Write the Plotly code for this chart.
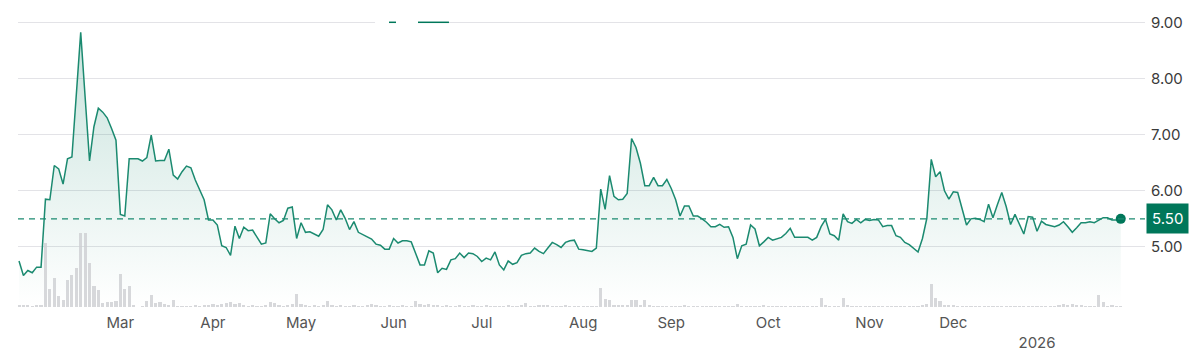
import plotly.graph_objects as go

# Daily closing prices (trading-day sequence, ~Jan 2025 -> Jan 2026)
prices = [
    4.75, 4.49, 4.58, 4.54, 4.64, 4.64, 5.85, 5.84, 6.45, 6.39,
    6.12, 6.57, 6.60, 7.70, 8.82, 7.67, 6.53, 7.14, 7.47, 7.40,
    7.30, 7.11, 6.90, 5.58, 5.55, 6.57, 6.57, 6.57, 6.53, 6.59,
    6.99, 6.53, 6.54, 6.54, 6.74, 6.28,
    6.21, 6.34, 6.44, 6.41, 6.19, 6.01, 5.84, 5.48, 5.48, 5.39,
    5.02, 4.99, 4.85, 5.37, 5.15, 5.35, 5.29, 5.30, 5.18, 5.05,
    5.07, 5.59, 5.50, 5.43, 5.47, 5.69, 5.71, 5.15, 5.43, 5.26,
    5.27, 5.23, 5.19, 5.31, 5.75, 5.66,
    5.48, 5.66, 5.51, 5.31, 5.45, 5.26, 5.22, 5.18, 5.14, 5.05,
    5.03, 4.96, 4.96, 5.15, 5.07, 5.11, 5.11, 5.09, 4.89, 4.68,
    4.68, 4.93, 4.89, 4.54, 4.62, 4.60, 4.77, 4.79, 4.89, 4.81,
    4.89, 4.88, 4.83, 4.74, 4.80, 4.77,
    4.91, 4.68, 4.59, 4.75, 4.69, 4.72, 4.85, 4.88, 4.89, 4.98,
    4.92, 4.88, 4.98, 5.08, 5.04, 4.99, 5.08, 5.11, 5.12, 4.96,
    4.95, 4.93, 4.92, 4.98, 6.03, 5.67, 6.27, 5.90, 5.84, 5.85,
    5.95, 6.93, 6.77, 6.49, 6.09, 6.09,
    6.24, 6.09, 6.09, 6.20, 6.04, 5.84, 5.55, 5.73, 5.73, 5.55,
    5.55, 5.50, 5.44, 5.36, 5.36, 5.40, 5.35, 5.36, 5.17, 4.79,
    5.02, 5.05, 5.39, 5.32, 5.02, 5.09, 5.17, 5.12, 5.15, 5.17,
    5.24, 5.33, 5.17, 5.17, 5.17, 5.17, 5.12,
    5.17, 5.36, 5.49, 5.23, 5.20, 5.12, 5.59, 5.45, 5.42, 5.49,
    5.43, 5.49, 5.47, 5.49, 5.48, 5.36, 5.38, 5.38, 5.20, 5.17,
    5.08, 5.04, 4.98, 4.91, 5.15, 5.51, 6.56, 6.25, 6.34, 6.00,
    5.85, 5.98, 5.97, 5.69, 5.39, 5.50,
    5.51, 5.49, 5.45, 5.76, 5.52, 5.75, 5.97, 5.72, 5.40, 5.58,
    5.40, 5.23, 5.54, 5.53, 5.28, 5.46, 5.40, 5.38, 5.36, 5.39,
    5.45, 5.36, 5.26, 5.34, 5.43, 5.43, 5.45, 5.43, 5.48, 5.52,
    5.52, 5.48, 5.48, 5.50,
]

# Daily traded volume (relative units)
volumes = [
    2, 2, 2, 1, 2, 2, 64, 18, 29, 11, 7, 27, 32, 39, 74, 74,
    44, 21, 17, 4, 5, 5, 6, 33, 18, 21, 2, 0.5, 1, 6, 12, 4, 5, 3, 2, 7,
    1, 1, 1, 1, 2, 1, 2, 2, 3, 2, 3, 4, 5, 3, 4, 2, 1, 2, 1, 1,
    2, 5, 4, 2, 1, 2, 3, 13, 3, 2, 1, 2, 1, 2, 6, 2,
    1, 2, 1, 1, 2, 1, 1, 2, 3, 2, 1, 1, 2, 1, 1, 2, 1, 1, 6, 3,
    2, 3, 2, 2, 1, 2, 1, 1, 2, 1, 1, 2, 1, 1, 2, 1,
    1, 1, 1, 2, 1, 1, 2, 4, 1, 1, 2, 2, 2, 1, 1, 1, 2, 1, 1, 1,
    1, 1, 1, 1, 19, 8, 7, 2, 2, 2, 2, 7, 7, 2, 7, 2,
    1, 1, 1, 1, 1, 1, 1, 2, 1, 1, 1, 1, 1, 1, 1, 1, 1, 1, 1, 3,
    1, 1, 1, 1, 1, 2, 1, 1, 1, 1, 1, 1, 1, 1, 1, 1, 1,
    1, 9, 2, 1, 1, 1, 9, 2, 1, 1, 1, 1, 1, 1, 1, 1, 1, 1, 1, 1,
    1, 1, 1, 1, 2, 3, 23, 9, 6, 2, 2, 2, 1, 1, 1, 1,
    1, 1, 1, 1, 1, 1, 1, 1, 1, 1, 1, 1, 1, 1, 1, 1, 1, 1, 1, 2,
    3, 2, 3, 2, 2, 1, 1, 1, 12, 5, 1, 2, 1, 1,
]

day_index = list(range(len(prices)))

month_tick_days = [23, 44, 64, 85, 105, 128, 148, 170, 193, 212, 231]
month_tick_labels = ["Mar", "Apr", "May", "Jun", "Jul", "Aug", "Sep",
                     "Oct", "Nov", "Dec", "<br>2026"]

price_ticks = [5, 6, 7, 8, 9]
price_tick_labels = ["5.00", "6.00", "7.00", "8.00", "9.00"]

last_price = 5.50

LINE = "#1b8a70"
DARK = "#00775a"
FONT = "Inter"

fig = go.Figure()

fig.add_trace(go.Bar(
    x=day_index, y=volumes, yaxis="y2",
    marker=dict(color="rgba(205,206,210,0.8)", line=dict(width=0)),
    width=0.72, hoverinfo="skip", showlegend=False,
))

fig.add_trace(go.Scatter(
    x=day_index, y=prices, mode="lines",
    line=dict(color=LINE, width=1.5),
    fill="tozeroy",
    fillgradient=dict(
        type="vertical",
        colorscale=[[0, "rgba(27,138,112,0.0)"], [1, "rgba(27,138,112,0.24)"]],
        start=3.93, stop=max(prices),
    ),
    hoverinfo="skip", showlegend=False,
))

fig.add_trace(go.Scatter(
    x=[day_index[-1]], y=[prices[-1]], mode="markers",
    marker=dict(color=DARK, size=10),
    hoverinfo="skip", showlegend=False,
))

fig.add_shape(type="line", xref="paper", x0=0, x1=1, yref="y",
              y0=last_price, y1=last_price,
              line=dict(color=LINE, width=1.2, dash="6px,5px"))

# small artefact on top gridline of the reference
fig.add_shape(type="line", xref="paper", x0=0.3168, x1=0.3549, yref="y", y0=9, y1=9,
              line=dict(color="white", width=3))
fig.add_shape(type="line", xref="paper", x0=0.3292, x1=0.3354, yref="y", y0=9, y1=9,
              line=dict(color=DARK, width=1.5))
fig.add_shape(type="line", xref="paper", x0=0.3549, x1=0.3824, yref="y", y0=9, y1=9,
              line=dict(color=DARK, width=1.5))

fig.add_annotation(
    xref="paper", x=1, xanchor="left", xshift=1,
    yref="y", y=last_price, yanchor="middle",
    text=f"{last_price:.2f}", showarrow=False,
    font=dict(family=FONT, size=15, color="white"),
    bgcolor=DARK, borderpad=5,
)

fig.update_layout(
    width=1202, height=353,
    margin=dict(l=18, r=57, t=15, b=46),
    paper_bgcolor="white", plot_bgcolor="white",
    font=dict(family=FONT),
    bargap=0,
    xaxis=dict(
        range=[-0.23, 255.5], automargin=False,
        tickvals=month_tick_days, ticktext=month_tick_labels,
        showgrid=False, zeroline=False, showline=False, ticks="",
        tickfont=dict(family=FONT, size=15, color="#555555"),
        ticklabelstandoff=5,
    ),
    yaxis=dict(
        side="right", range=[3.93, 9.13], automargin=False,
        tickvals=price_ticks, ticktext=price_tick_labels,
        showgrid=True, gridcolor="#e3e3e7", gridwidth=1,
        zeroline=False, showline=False, ticks="",
        tickfont=dict(family=FONT, size=15, color="#3a3a3a"),
        ticklabelstandoff=5,
    ),
    yaxis2=dict(overlaying="y", range=[0, 292], visible=False),
)

fig.write_html("out.html")
